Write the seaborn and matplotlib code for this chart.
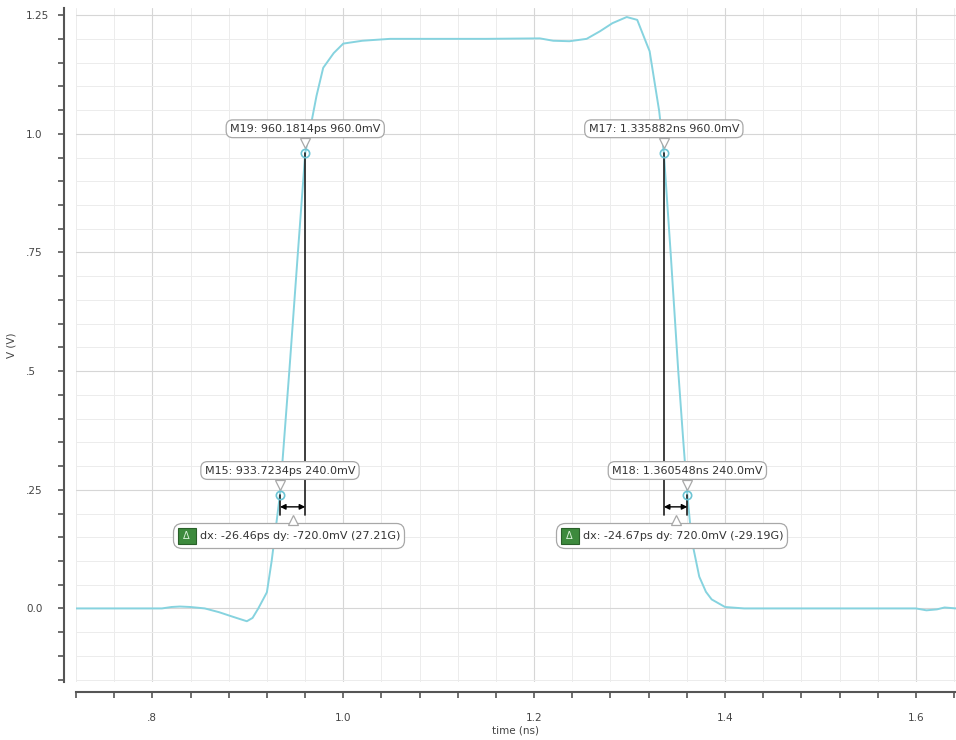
import numpy as np
import matplotlib
matplotlib.use("Agg")
import matplotlib.pyplot as plt
import matplotlib.transforms as mtransforms
from matplotlib.ticker import MultipleLocator
from matplotlib.offsetbox import AnnotationBbox, HPacker, TextArea, DrawingArea
from matplotlib.patches import Rectangle
from matplotlib.text import Text
import seaborn as sns

# waveform (time in ns, voltage in V)
time_ns = [0.72, 0.80, 0.81, 0.82, 0.829, 0.84, 0.855, 0.87, 0.885, 0.899,
           0.905, 0.911, 0.92, 0.925, 0.9337, 0.9435, 0.9525, 0.9602, 0.965,
           0.972, 0.979, 0.99, 1.0, 1.02, 1.049, 1.1, 1.15, 1.206, 1.22,
           1.237, 1.255, 1.269, 1.282, 1.297, 1.308, 1.318, 1.321, 1.326,
           1.331, 1.3359, 1.343, 1.351, 1.356, 1.3605, 1.365, 1.373, 1.38,
           1.386, 1.40, 1.42, 1.5, 1.6, 1.611, 1.622, 1.63, 1.642]
volts = [0.0, 0.0, 0.0, 0.003, 0.004, 0.003, 0.0, -0.008, -0.018, -0.027,
         -0.02, 0.0, 0.034, 0.10, 0.24, 0.50, 0.75, 0.96, 1.007,
         1.08, 1.139, 1.17, 1.19, 1.196, 1.2, 1.2, 1.2, 1.201, 1.196,
         1.195, 1.2, 1.216, 1.233, 1.246, 1.24, 1.189, 1.174, 1.111,
         1.048, 0.96, 0.75, 0.50, 0.36, 0.24, 0.145, 0.067, 0.035,
         0.019, 0.003, 0.0, 0.0, 0.0, -0.004, -0.002, 0.002, 0.0]

# markers
marker_names = ["M15", "M19", "M17", "M18"]
marker_t = [0.9337234, 0.9601814, 1.335882, 1.360548]
marker_v = [0.24, 0.96, 0.96, 0.24]
# delta pairs (index a, index b)
delta_pairs = [(0, 1), (2, 3)]

x_ticks = [0.8, 1.0, 1.2, 1.4, 1.6]
x_labels = [".8", "1.0", "1.2", "1.4", "1.6"]
y_ticks = [0.0, 0.25, 0.5, 0.75, 1.0, 1.25]
y_labels = ["0.0", ".25", ".5", ".75", "1.0", "1.25"]

sns.set_style("white")
plt.rcParams['font.family'] = ['DejaVu Sans']

W, H = 956, 740
fig = plt.figure(figsize=(W / 100, H / 100), dpi=100)
ax = fig.add_axes([76 / W, 1 - 682 / H, (W - 76) / W, (682 - 8) / H])

wave_col = "#86d3df"
sns.lineplot(x=time_ns, y=volts, ax=ax, color=wave_col, lw=1.4,
             sort=False, estimator=None, zorder=3)

ax.set_xlim(0.72, 1.642)
ax.set_ylim(-0.155, 1.265)

ax.set_xticks(x_ticks)
ax.set_xticklabels(x_labels)
ax.set_yticks(y_ticks)
ax.set_yticklabels(y_labels)
ax.xaxis.set_minor_locator(MultipleLocator(0.04))
ax.yaxis.set_minor_locator(MultipleLocator(0.05))

ax.grid(which="major", color="#d6d6d6", lw=0.8)
ax.grid(which="minor", color="#ececec", lw=0.7)
ax.set_axisbelow(True)

sns.despine(ax=ax, offset={"left": 9, "bottom": 7})
for s in ["left", "bottom"]:
    ax.spines[s].set_color("#555555")
    ax.spines[s].set_linewidth(1.5)

ax.tick_params(which="both", bottom=True, left=True, direction="out",
               length=4, width=1.2, color="#555555", labelcolor="#444444",
               labelsize=7.5)
ax.tick_params(axis="x", which="both", pad=11)
ax.tick_params(axis="y", which="both", pad=23)
for lab in ax.get_yticklabels():
    lab.set_horizontalalignment("left")

ax.set_xlabel("time (ns)", fontsize=7.5, color="#444444", labelpad=2)
ax.set_ylabel("V (V)", fontsize=7.5, color="#444444")
ax.yaxis.set_label_coords((16 - 76) / (W - 76), 0.5)

# measurement lines and arrows
arrow_y = 0.214
line_bottom = 0.197
label_col = "#333333"
box_edge = "#a8a8a8"

for i in range(len(marker_t)):
    ax.plot([marker_t[i], marker_t[i]], [marker_v[i], line_bottom],
            color="#1e1e1e", lw=1.2, zorder=4)

for a, b in delta_pairs:
    ax.annotate("", xy=(marker_t[b], arrow_y), xytext=(marker_t[a], arrow_y),
                arrowprops=dict(arrowstyle="<|-|>", color="black", lw=1.0,
                                shrinkA=0, shrinkB=0, mutation_scale=8),
                zorder=5)

ax.plot(marker_t, marker_v, ls="none", marker="o", ms=6, mfc="none",
        mec="#6cc4d4", mew=1.2, zorder=6)

# marker labels with notch
for name, t, v in zip(marker_names, marker_t, marker_v):
    if t < 1:
        tstr = f"{t * 1000:.4f}ps"
    else:
        tstr = f"{t:.6f}ns"
    txt = f"{name}: {tstr} {v * 1000:.1f}mV"
    ax.annotate(txt, xy=(t, v), xytext=(0, 24), textcoords="offset pixels",
                ha="center", va="center", fontsize=8, color=label_col,
                bbox=dict(boxstyle="round,pad=0.35,rounding_size=0.6",
                          fc="white", ec=box_edge, lw=0.9),
                zorder=8)
    tr = mtransforms.offset_copy(ax.transData, fig=fig, x=0, y=10, units="dots")
    ax.plot([t], [v], ls="none", marker="v", ms=7, mfc="white",
            mec=box_edge, mew=0.9, transform=tr, zorder=9)

# delta labels: green delta square + text in one rounded box
for a, b in delta_pairs:
    dx = (marker_t[a] - marker_t[b]) * 1000
    dy = (marker_v[a] - marker_v[b]) * 1000
    slope = dy / dx
    mid = (marker_t[a] + marker_t[b]) / 2

    da = DrawingArea(13, 12, 0, 0)
    da.add_artist(Rectangle((0, 0), 13, 12, fc="#3d8a3d", ec="#2a602a", lw=0.8))
    da.add_artist(Text(6.5, 6, "\u0394", ha="center", va="center",
                       fontsize=7, color="#d8f0d8"))
    ta = TextArea(f"dx: {dx:.2f}ps dy: {dy:.1f}mV ({slope:.2f}G)",
                  textprops=dict(fontsize=8, color=label_col))
    pack = HPacker(children=[da, ta], align="center", pad=0, sep=3)
    ab = AnnotationBbox(pack, (mid, arrow_y), xybox=(-115, -29),
                        xycoords="data", boxcoords="offset pixels",
                        box_alignment=(0, 0.5), frameon=True, pad=0.25,
                        bboxprops=dict(boxstyle="round,rounding_size=0.6",
                                       fc="white", ec=box_edge, lw=0.9),
                        zorder=8)
    ax.add_artist(ab)
    tr = mtransforms.offset_copy(ax.transData, fig=fig, x=0, y=-13, units="dots")
    ax.plot([mid], [arrow_y], ls="none", marker="^", ms=7, mfc="white",
            mec=box_edge, mew=0.9, transform=tr, zorder=9)

fig.savefig("out.png", dpi=100)
